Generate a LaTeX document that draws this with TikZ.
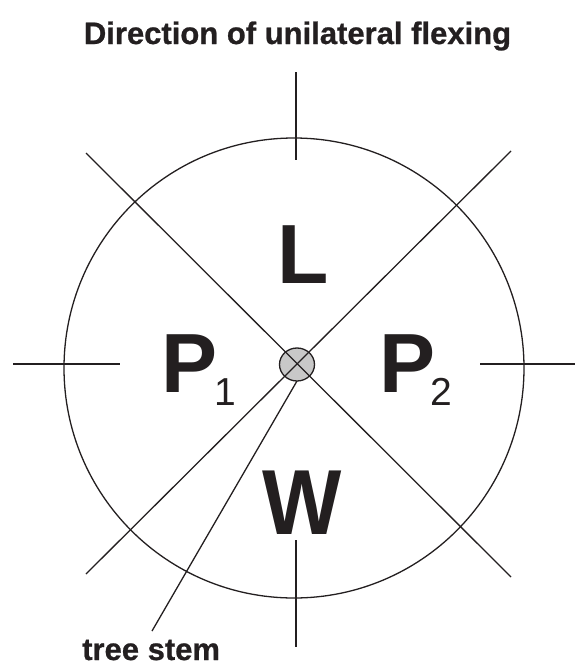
\documentclass[tikz,border=0pt]{standalone}
\usepackage{fontspec}
\setmainfont{Liberation Sans}
\newfontfamily\heavyfont[FakeBold=0.8]{Liberation Sans Bold}
\usetikzlibrary{shapes.geometric}
\definecolor{ink}{RGB}{35,31,32}
\definecolor{stemgray}{RGB}{200,200,200}
\begin{document}
\begin{tikzpicture}[x=1pt,y=-1pt,
  ln/.style={line width=1.3pt, draw=ink},
  biglbl/.style={font=\bfseries\fontsize{84}{84}\selectfont, text=ink, inner sep=0pt, anchor=base west},
  sublbl/.style={font=\fontsize{39}{39}\selectfont, text=ink, inner sep=0pt, anchor=base west},
  captext/.style={font=\heavyfont\fontsize{31}{31}\selectfont, text=ink, inner sep=0pt}]
\useasboundingbox (0,0) rectangle (575,664);
% outer circle
\node (ring) [circle, ln, minimum size=460pt, inner sep=0pt] at (294,368) {};
% stem disk
\node (stem) [ellipse, ln, fill=stemgray, minimum width=35pt, minimum height=33pt, inner sep=0pt] at (297,364.5) {};
% coordinates of line ends
\coordinate (ul) at (86,153);
\coordinate (lr) at (511,577);
\coordinate (ur) at (511,151);
\coordinate (ll) at (86,574);
\coordinate (lt1) at (13,364);
\coordinate (lt2) at (120,364);
\coordinate (rt1) at (480,364);
\coordinate (rt2) at (575,364);
\coordinate (tp1) at (296,72);
\coordinate (tp2) at (296,160);
\coordinate (bt1) at (296,540);
\coordinate (bt2) at (296,647);
\coordinate (st1) at (297,381);
\coordinate (st2) at (152,631);
% lines
\draw[ln] (ul) -- (lr);
\draw[ln] (ur) -- (ll);
\draw[ln] (lt1) -- (lt2);
\draw[ln] (rt1) -- (rt2);
\draw[ln] (tp1) -- (tp2);
\draw[ln] (bt1) -- (bt2);
\draw[ln] (st1) -- (st2);
% labels
\node (title) [captext, anchor=base] at (297.5,44) {Direction of unilateral flexing};
\node (L) [biglbl] at (277,283) {L};
\node (P1) [biglbl] at (161,392) {P};
\node (s1) [sublbl] at (214,405) {1};
\node (P2) [biglbl] at (379,392) {P};
\node (s2) [sublbl] at (430,405) {2};
\node (W) [biglbl, anchor=base, yscale=1.1] at (302,534) {W};
\node (tree) [captext, anchor=base west] at (82,660) {tree stem};
\end{tikzpicture}
\end{document}
